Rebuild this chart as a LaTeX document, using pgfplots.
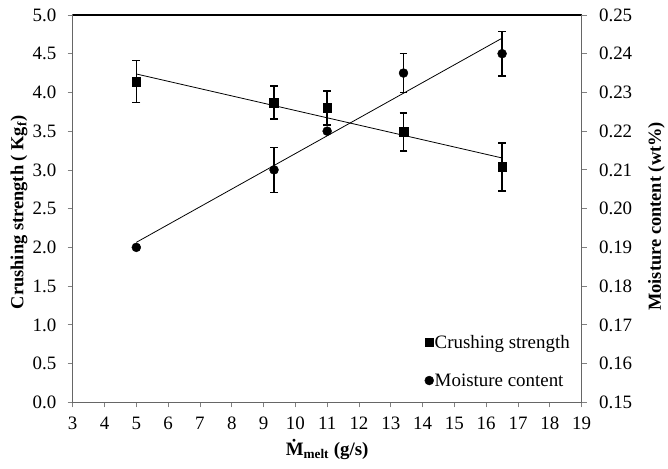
\documentclass[border=0pt]{standalone}
\usepackage{pgfplots}
\pgfplotsset{compat=1.18}
\usepackage{fontspec}
\setmainfont{Liberation Serif}
\begin{document}
\begin{tikzpicture}
\pgfplotsset{
  every axis/.append style={
    scale only axis, width=511pt, height=389pt,
    xmin=3, xmax=19,
    tick align=outside, major tick length=5pt,
    every tick/.style={gray, line width=0.8pt},
    tick label style={font=\fontsize{19}{22}\selectfont},
    /pgf/number format/assume math mode=true,
  },
}
\begin{axis}[
  ymin=0, ymax=5,
  xtick={3,4,...,19},
  ytick={0,0.5,...,5},
  xtick pos=bottom, ytick pos=left,
  axis line style={gray!80!black, line width=1.3pt},
  yticklabel style={xshift=-8pt, /pgf/number format/.cd, fixed, fixed zerofill, precision=1},
  xticklabel style={yshift=-6pt},
  xlabel={\.{M}\textsubscript{melt} (g/s)},
  ylabel={Crushing strength ( Kg\textsubscript{f})},
  xlabel style={at={(axis description cs:0.5,-0.121)}, anchor=center, font=\fontsize{19}{22}\selectfont\bfseries},
  ylabel style={at={(axis description cs:-0.1057,0.49)}, anchor=center, font=\fontsize{18.5}{21}\selectfont\bfseries},
]
\coordinate (bl) at (rel axis cs:0,0);
\coordinate (tr) at (rel axis cs:1,1);
\draw[black, line width=1.3pt] (rel axis cs:0,1) -- (rel axis cs:1,1);
\addplot[black, line width=0.8pt] coordinates {(5,4.238) (16.5,3.154)};
\addplot[only marks, mark=square*, mark size=4.4pt, black,
  error bars/.cd, y dir=both, y explicit,
  error bar style={line width=1.5pt, black},
  error mark options={rotate=90, mark size=4pt, line width=1.5pt, black}]
  coordinates {
  (5,4.14) +- (0,0.27)
  (9.33,3.87) +- (0,0.215)
  (11,3.80) +- (0,0.22)
  (13.4,3.49) +- (0,0.245)
  (16.5,3.04) +- (0,0.31)
};
\end{axis}
\begin{axis}[
  ymin=0.15, ymax=0.25,
  ytick={0.15,0.16,...,0.25},
  axis x line=none,
  axis y line*=right,
  axis line style={gray!80!black, line width=1.3pt},
  yticklabel style={xshift=9pt, /pgf/number format/.cd, fixed, fixed zerofill, precision=2},
  ylabel={Moisture content (wt\%)},
  ylabel style={at={(axis description cs:1.1468,0.48)}, anchor=center, font=\fontsize{18.5}{21}\selectfont\bfseries},
  legend style={at={(0.985,0.03)}, anchor=south east, draw=none, fill=none,
    font=\fontsize{19}{22}\selectfont, row sep=22pt,
    nodes={inner sep=1pt}},
  legend cell align=left,
]
\addlegendimage{only marks, mark=square*, mark size=4.4pt, black}
\addlegendentry{Crushing strength}
\addplot[black, line width=0.8pt, forget plot] coordinates {(5,0.1913) (16.5,0.2440)};
\addplot[only marks, mark=*, mark size=4.5pt, black,
  error bars/.cd, y dir=both, y explicit,
  error bar style={line width=1.5pt, black},
  error mark options={rotate=90, mark size=4pt, line width=1.5pt, black}]
  coordinates {
  (5,0.19) +- (0,0)
  (9.33,0.21) +- (0,0.0058)
  (11,0.22) +- (0,0)
  (13.4,0.235) +- (0,0.005)
  (16.5,0.24) +- (0,0.0057)
};
\addlegendentry{Moisture content}
\end{axis}
\path ([shift={(-73pt,-66pt)}]bl) rectangle ([shift={(84pt,15pt)}]tr);
\end{tikzpicture}
\end{document}
